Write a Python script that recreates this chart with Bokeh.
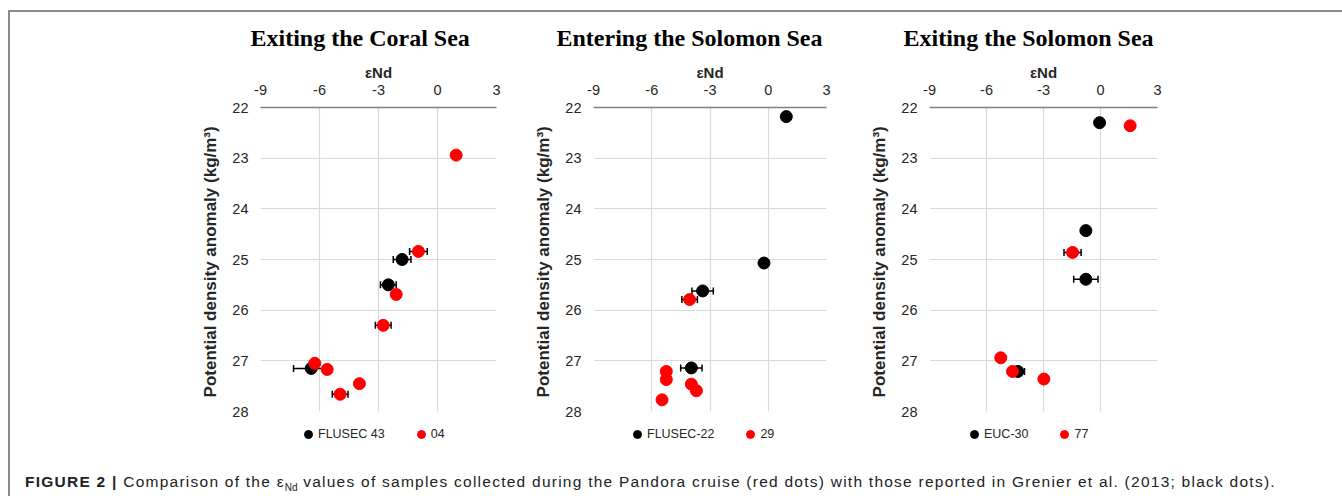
import math
from bokeh.plotting import figure
from bokeh.models import Range1d, FixedTicker, Legend, LegendItem, Div
from bokeh.layouts import row, column
from bokeh.embed import file_html
from bokeh.resources import INLINE

# ---------------- data ----------------
titles = ["Exiting the Coral  Sea", "Entering  the Solomon Sea", "Exiting the Solomon Sea"]
black_labels = ["FLUSEC 43", "FLUSEC-22", "EUC-30"]
red_labels = ["04", "29", "77"]

x_ticks = [-9, -6, -3, 0, 3]
y_ticks = [22, 23, 24, 25, 26, 27, 28]

# Exiting the Coral Sea
coral_black_eps = [-1.8, -2.5, -6.42]
coral_black_sigma = [25.0, 25.5, 27.15]
coral_black_err = [0.45, 0.4, 0.9]
coral_red_eps = [0.95, -0.97, -2.1, -2.76, -6.24, -5.61, -3.97, -4.95]
coral_red_sigma = [22.94, 24.84, 25.69, 26.30, 27.05, 27.17, 27.45, 27.66]
coral_red_err = [0.0, 0.45, 0.0, 0.4, 0.0, 0.0, 0.0, 0.4]

# Entering the Solomon Sea
enter_black_eps = [0.93, -0.22, -3.38, -3.96]
enter_black_sigma = [22.18, 25.07, 25.62, 27.14]
enter_black_err = [0.0, 0.0, 0.55, 0.55]
enter_red_eps = [-4.05, -5.25, -5.25, -3.96, -3.7, -5.47]
enter_red_sigma = [25.79, 27.21, 27.37, 27.46, 27.59, 27.77]
enter_red_err = [0.4, 0.0, 0.0, 0.0, 0.0, 0.0]

# Exiting the Solomon Sea
exit_black_eps = [-0.05, -0.77, -0.77, -4.35]
exit_black_sigma = [22.3, 24.43, 25.39, 27.21]
exit_black_err = [0.0, 0.0, 0.64, 0.35]
exit_red_eps = [1.56, -1.47, -5.25, -4.63, -2.98]
exit_red_sigma = [22.36, 24.86, 26.94, 27.21, 27.36]
exit_red_err = [0.0, 0.45, 0.0, 0.0, 0.0]

panels = [
    (coral_black_eps, coral_black_sigma, coral_black_err, coral_red_eps, coral_red_sigma, coral_red_err),
    (enter_black_eps, enter_black_sigma, enter_black_err, enter_red_eps, enter_red_sigma, enter_red_err),
    (exit_black_eps, exit_black_sigma, exit_black_err, exit_red_eps, exit_red_sigma, exit_red_err),
]

# ---------------- layout geometry ----------------
fig_w = [517, 335, 478]
b_left = [250, 66, 67]
b_right = [31, 36, 183]
title_offset = [-10, -37, -26]
legend_left = [288, 100, 102]
fig_h = 406
b_top = 94
b_bottom = 7
legend_h = 28

SANS = "Liberation Sans"
SERIF = "Liberation Serif"


def errorbars(p, xs, ys, es):
    lx, rx, yy = [], [], []
    for x, y, e in zip(xs, ys, es):
        if e > 0:
            lx.append(x - e)
            rx.append(x + e)
            yy.append(y)
    if yy:
        p.segment(x0=lx, y0=yy, x1=rx, y1=yy, line_color="black", line_width=1.5)
        p.scatter(x=lx + rx, y=yy + yy, marker="dash", angle=math.pi / 2, size=7,
                  line_color="black", line_width=1.5)


figs = []
legend_figs = []
for i, (bx, by, be, rx, ry, re_) in enumerate(panels):
    p = figure(width=fig_w[i], height=fig_h, output_backend="svg", toolbar_location=None,
               x_range=Range1d(-9, 3), y_range=Range1d(28, 22),
               x_axis_location="above", min_border_left=b_left[i], min_border_right=b_right[i],
               min_border_top=b_top, min_border_bottom=b_bottom)
    p.outline_line_color = None
    p.background_fill_color = "white"
    p.border_fill_color = "white"

    p.title.text = titles[i]
    p.title.text_font = SERIF
    p.title.text_font_size = "24px"
    p.title.text_font_style = "bold"
    p.title.text_color = "black"
    p.title.align = "left"
    p.title.offset = title_offset[i]
    p.title.standoff = 20

    xa = p.xaxis[0]
    xa.ticker = FixedTicker(ticks=x_ticks)
    xa.major_label_overrides = {t: str(t) for t in x_ticks}
    xa.axis_line_color = "#808080"
    xa.axis_line_width = 1.6
    xa.major_tick_line_color = None
    xa.minor_tick_line_color = None
    xa.major_tick_out = 0
    xa.major_label_standoff = 13
    xa.major_label_text_font = SANS
    xa.major_label_text_font_size = "14.5px"
    xa.major_label_text_color = "#262626"
    xa.axis_label = "εNd"
    xa.axis_label_text_font = SANS
    xa.axis_label_text_font_size = "15px"
    xa.axis_label_text_font_style = "bold"
    xa.axis_label_text_color = "#262626"
    xa.axis_label_standoff = 1

    ya = p.yaxis[0]
    ya.ticker = FixedTicker(ticks=y_ticks)
    ya.axis_line_color = None
    ya.major_tick_line_color = None
    ya.minor_tick_line_color = None
    ya.major_tick_out = 0
    ya.major_label_standoff = 12
    ya.major_label_text_font = SANS
    ya.major_label_text_font_size = "14.5px"
    ya.major_label_text_color = "#262626"
    ya.axis_label = "Potential  density anomaly (kg/m³)"
    ya.axis_label_text_font = SANS
    ya.axis_label_text_font_size = "17px"
    ya.axis_label_text_font_style = "bold"
    ya.axis_label_text_color = "#262626"
    ya.axis_label_standoff = 9

    p.xgrid.ticker = FixedTicker(ticks=x_ticks)
    p.ygrid.ticker = FixedTicker(ticks=y_ticks)
    p.xgrid.grid_line_color = "#d9d9d9"
    p.ygrid.grid_line_color = "#d9d9d9"
    p.xgrid.grid_line_width = 1.2
    p.ygrid.grid_line_width = 1.2

    errorbars(p, bx, by, be)
    errorbars(p, rx, ry, re_)
    p.scatter(x=bx, y=by, size=12, marker="circle", fill_color="black", line_color="black")
    p.scatter(x=rx, y=ry, size=12, marker="circle", fill_color="#ff0000", line_color="#ff0000")
    figs.append(p)

    # legend strip under the panel: same series styles, the series' points lie outside
    # this strip's range so only the legend entries are visible
    lf = figure(width=fig_w[i], height=legend_h, output_backend="svg", toolbar_location=None,
                x_axis_type=None, y_axis_type=None, min_border=0,
                x_range=Range1d(-9, 3), y_range=Range1d(0, 1))
    lf.outline_line_color = None
    lf.background_fill_color = "white"
    lf.border_fill_color = "white"
    lb = lf.scatter(x=bx, y=by, size=12, marker="circle", fill_color="black", line_color="black")
    lr = lf.scatter(x=rx, y=ry, size=12, marker="circle", fill_color="#ff0000", line_color="#ff0000")
    legend = Legend(items=[LegendItem(label=black_labels[i], renderers=[lb]),
                           LegendItem(label=red_labels[i], renderers=[lr])],
                    orientation="horizontal", location=(legend_left[i], 2))
    legend.border_line_color = None
    legend.background_fill_alpha = 0
    legend.margin = 0
    legend.padding = 3
    legend.spacing = 26
    legend.glyph_width = 20
    legend.glyph_height = 20
    legend.label_height = 20
    legend.label_standoff = 0
    legend.label_text_font = SANS
    legend.label_text_font_size = "12.5px"
    legend.label_text_color = "#262626"
    lf.add_layout(legend)
    legend_figs.append(lf)

caption = Div(
    text=('<div style="padding-top:20px; padding-left:10px; white-space:nowrap; '
          'font-family:\'Liberation Sans\'; font-size:15.5px; letter-spacing:1.25px; color:#222;">'
          '<b>FIGURE 2 |</b> Comparison of the ε<sub style="font-size:10px; letter-spacing:0">Nd</sub> '
          'values of samples collected during the Pandora cruise (red dots) with those reported in '
          'Grenier et al. (2013; black dots).</div>'),
    width=1330, height=48)

layout = column(row(*figs), row(*legend_figs), caption,
                styles={"margin-left": "8px", "margin-top": "10px",
                        "border-top": "2px solid #8a8a8a", "border-left": "2px solid #8a8a8a"})

open("out.html", "w").write(file_html(layout, INLINE))
